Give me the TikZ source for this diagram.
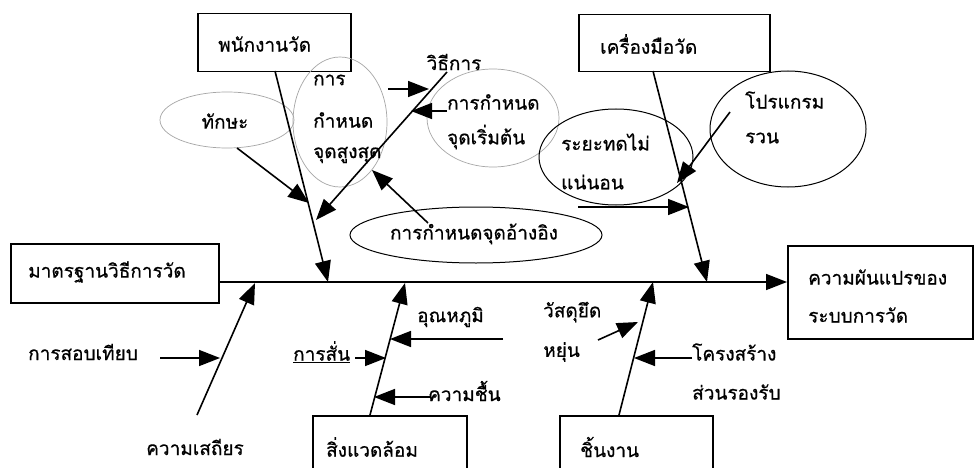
\documentclass[tikz,border=0pt]{standalone}
\usepackage{fontspec}
\newfontfamily\thai[Script=Thai,FakeBold=0.6]{Loma}
\usetikzlibrary{arrows.meta,shapes.geometric}
\tikzset{
  bone/.style={line width=1.6pt,-{Triangle[length=21pt,width=16pt]}},
  box/.style={draw,line width=1.5pt,rectangle,anchor=north west,inner sep=0pt},
  txt/.style={font=\thai\fontsize{19}{22}\selectfont,inner sep=0pt,anchor=west},
  gell/.style={draw=black!35,line width=0.7pt,ellipse,inner sep=0pt},
  bell/.style={draw,line width=1pt,ellipse,inner sep=0pt},
}
\begin{document}
\begin{tikzpicture}[x=1pt,y=-1pt]
\clip (0,0) rectangle (974,468);
\fill[white] (0,0) rectangle (974,468);
% boxes
\node[box,minimum width=153pt,minimum height=58pt] (man) at (197,13) {};
\node[txt] (mant) at (218,44) {พนักงานวัด};
\node[box,minimum width=191pt,minimum height=57pt] (tool) at (578,14) {};
\node[txt] (toolt) at (600,44) {เครื่องมือวัด};
\node[box,minimum width=208pt,minimum height=59pt] (std) at (10,243) {};
\node[txt] (stdt) at (28,272) {มาตรฐานวิธีการวัด};
\node[box,minimum width=185pt,minimum height=93pt] (eff) at (787,245) {};
\node[txt] (efft1) at (808,277) {ความผันแปรของ};
\node[txt] (efft2) at (808,315) {ระบบการวัด};
\node[box,minimum width=154pt,minimum height=70pt] (env) at (312,415) {};
\node[txt] (envt) at (326,447) {สิ่งแวดล้อม};
\node[box,minimum width=153pt,minimum height=70pt] (work) at (559,415) {};
\node[txt] (workt) at (580,447) {ชิ้นงาน};
% ellipses
\node[gell,minimum width=134pt,minimum height=56pt] (skill) at (227,120) {};
\node[txt,anchor=center] (skillt) at (225,121) {ทักษะ};
\node[gell,minimum width=94pt,minimum height=130pt] (peak) at (340,122) {};
\node[txt] (peak1) at (313,80) {การ};
\node[txt] (peak2) at (313,120) {กำหนด};
\node[txt] (peak3) at (313,155) {จุดสูงสุด};
\node[gell,minimum width=132pt,minimum height=98pt] (start) at (493,118) {};
\node[txt] (start1) at (447,102) {การกำหนด};
\node[txt] (start2) at (447,137) {จุดเริ่มต้น};
\node[bell,minimum width=252pt,minimum height=56pt] (ref) at (476,235) {};
\node[txt,anchor=center] (reft) at (474,234) {การกำหนดจุดอ้างอิง};
\node[bell,minimum width=154pt,minimum height=96pt] (dist) at (616,157) {};
\node[txt] (dist1) at (561,142) {ระยะทดไม่};
\node[txt] (dist2) at (561,182) {แน่นอน};
\node[bell,minimum width=156pt,minimum height=116pt] (prog) at (788,129) {};
\node[txt] (prog1) at (745,100) {โปรแกรม};
\node[txt] (prog2) at (745,138) {รวน};
% other labels
\node[txt,anchor=center] (method) at (454,62) {วิธีการ};
\node[txt] (calib) at (28,352) {การสอบเทียบ};
\node[txt,anchor=center] (stab) at (195,447) {ความเสถียร};
\node[txt] (vib) at (293,352) {\underline{การสั่น}};
\node[txt] (temp) at (417,317) {อุณหภูมิ};
\node[txt] (hum) at (428,391) {ความชื้น};
\node[txt] (elas1) at (543,312) {วัสดุยึด};
\node[txt] (elas2) at (543,352) {หยุ่น};
\node[txt] (sup1) at (692,352) {โครงสร้าง};
\node[txt] (sup2) at (692,392) {ส่วนรองรับ};
% coordinates
\coordinate (s0) at (218,282);
\coordinate (s1) at (787,282);
\coordinate (b1a) at (275,71);  \coordinate (b1b) at (328,282);
\coordinate (b2a) at (653,71);  \coordinate (b2b) at (707,282);
\coordinate (b3a) at (370,415); \coordinate (b3b) at (405,283);
\coordinate (b4a) at (619,415); \coordinate (b4b) at (653,282);
\coordinate (b5a) at (197,415); \coordinate (b5b) at (255,283);
\coordinate (ma) at (447,72);   \coordinate (mb) at (316,220);
% spine and bones
\draw[bone] (s0) -- (s1);
\draw[bone] (b1a) -- (b1b);
\draw[bone] (b2a) -- (b2b);
\draw[bone] (b3a) -- (b3b);
\draw[bone] (b4a) -- (b4b);
\draw[bone] (b5a) -- (b5b);
\draw[bone] (ma) -- (mb);
% sub arrows
\coordinate (k1) at (237,148); \coordinate (k2) at (309,203);
\draw[bone] (k1) -- (k2);
\coordinate (p1) at (388,89); \coordinate (p2) at (429,89);
\draw[bone] (p1) -- (p2);
\coordinate (r1) at (447,111); \coordinate (r2) at (411,111);
\draw[bone] (r1) -- (r2);
\coordinate (f1) at (428,223); \coordinate (f2) at (372,170);
\draw[bone] (f1) -- (f2);
\coordinate (d1) at (578,207); \coordinate (d2) at (689,207);
\draw[bone] (d1) -- (d2);
\coordinate (g1) at (730,112); \coordinate (g2) at (677,183);
\draw[bone] (g1) -- (g2);
\coordinate (c1) at (160,358); \coordinate (c2) at (220,358);
\draw[bone] (c1) -- (c2);
\coordinate (v1) at (355,358); \coordinate (v2) at (386,358);
\draw[bone] (v1) -- (v2);
\coordinate (t1) at (503,339); \coordinate (t2) at (390,339);
\draw[bone] (t1) -- (t2);
\coordinate (h1) at (430,397); \coordinate (h2) at (374,397);
\draw[bone] (h1) -- (h2);
\coordinate (e1) at (598,340); \coordinate (e2) at (638,322);
\draw[bone] (e1) -- (e2);
\coordinate (u1) at (692,358); \coordinate (u2) at (634,358);
\draw[bone] (u1) -- (u2);
\end{tikzpicture}
\end{document}
